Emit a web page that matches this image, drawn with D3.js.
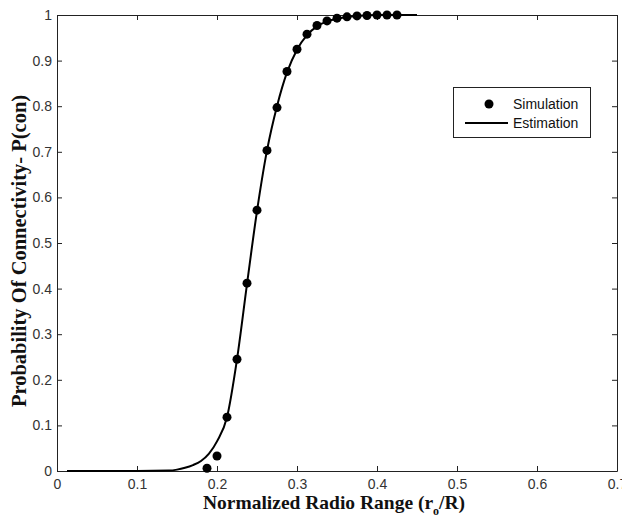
<!DOCTYPE html>
<html>
<head>
<meta charset="utf-8">
<script src="https://cdn.jsdelivr.net/npm/d3@7"></script>
<style>
  body { margin: 0; background: #fff; }
  svg { display: block; }
</style>
</head>
<body>
<script>
"use strict";
(function(){
    // simulation points
    const simX = [0.1875, 0.2, 0.2125, 0.225, 0.2375, 0.25, 0.2625, 0.275, 0.2875, 0.3,
                  0.3125, 0.325, 0.3375, 0.35, 0.3625, 0.375, 0.3875, 0.4, 0.4125, 0.425]
    const simY = [0.006, 0.033, 0.118, 0.245, 0.412, 0.572, 0.703, 0.797, 0.876, 0.925,
                  0.958, 0.977, 0.987, 0.993, 0.996, 0.998, 0.999, 1.0, 1.0, 1.0]
    // estimation curve
    const estX = [0.0125, 0.05, 0.1, 0.14, 0.15, 0.16, 0.17, 0.18, 0.19, 0.2, 0.2125, 0.225,
                  0.2375, 0.25, 0.2625, 0.275, 0.2875, 0.3, 0.3125, 0.325, 0.3375, 0.35,
                  0.375, 0.4, 0.45]
    const estY = [0, 0, 0, 0.001, 0.003, 0.007, 0.013, 0.022, 0.038, 0.065, 0.118, 0.245,
                  0.41, 0.57, 0.703, 0.8, 0.874, 0.924, 0.956, 0.975, 0.986, 0.992,
                  0.998, 1.0, 1.0]
    const xTicks = [0, 0.1, 0.2, 0.3, 0.4, 0.5, 0.6, 0.7]
    const yTicks = [0, 0.1, 0.2, 0.3, 0.4, 0.5, 0.6, 0.7, 0.8, 0.9, 1]
    const legendNames = ["Simulation", "Estimation"]

    const measurements = {
        width: 622,
        height: 521,
        left: 57,
        right: 617,
        top: 15,
        bottom: 471
    }

    const svg = d3.select("body").append("svg")
        .attr("width", measurements.width)
        .attr("height", measurements.height)

    const scaleX = d3.scaleLinear()
        .domain([0, 0.7])
        .range([measurements.left, measurements.right])
    const scaleY = d3.scaleLinear()
        .domain([0, 1])
        .range([measurements.bottom, measurements.top])

    const fmt = d3.format("")

    // axes: ticks point inward on all four sides
    const axes = [
        { axis: d3.axisBottom(scaleX).tickValues(xTicks).tickFormat(fmt).tickPadding(8),
          pos: `translate(0,${measurements.bottom})` },
        { axis: d3.axisTop(scaleX).tickValues(xTicks).tickFormat(""),
          pos: `translate(0,${measurements.top})` },
        { axis: d3.axisLeft(scaleY).tickValues(yTicks).tickFormat(fmt).tickPadding(5),
          pos: `translate(${measurements.left},0)` },
        { axis: d3.axisRight(scaleY).tickValues(yTicks).tickFormat(""),
          pos: `translate(${measurements.right},0)` }
    ]
    axes.forEach((a) => {
        const g = svg.append("g")
            .attr("transform", a.pos)
            .call(a.axis.tickSizeInner(-5).tickSizeOuter(0))
        g.select(".domain").attr("stroke", "#222")
        g.selectAll(".tick line").attr("stroke", "#222")
        g.selectAll("text")
            .attr("font-family", "Liberation Sans, Arial, sans-serif")
            .attr("font-size", 14)
            .attr("fill", "#333")
    })

    // estimation line
    const estData = estX.map((x, i) => [x, estY[i]])
    const line = d3.line()
        .x((d) => scaleX(d[0]))
        .y((d) => scaleY(d[1]))
        .curve(d3.curveMonotoneX)
    svg.append("path")
        .datum(estData)
        .attr("d", line)
        .attr("fill", "none")
        .attr("stroke", "#000")
        .attr("stroke-width", 2)

    // simulation markers
    svg.selectAll(".sim")
        .data(simX.map((x, i) => [x, simY[i]]))
        .enter()
        .append("circle")
            .attr("class", "sim")
            .attr("cx", (d) => scaleX(d[0]))
            .attr("cy", (d) => scaleY(d[1]))
            .attr("r", 4.5)
            .attr("fill", "#000")

    // legend
    const legend = svg.append("g")
    legend.append("rect")
        .attr("x", 453.5).attr("y", 87.5)
        .attr("width", 137).attr("height", 50)
        .attr("fill", "#fff").attr("stroke", "#222")
    legend.append("circle")
        .attr("cx", 489).attr("cy", 104).attr("r", 4.5).attr("fill", "#000")
    legend.append("line")
        .attr("x1", 465).attr("x2", 508).attr("y1", 123).attr("y2", 123)
        .attr("stroke", "#000").attr("stroke-width", 2)
    legend.selectAll(".legtext")
        .data(legendNames)
        .enter()
        .append("text")
            .attr("x", 513)
            .attr("y", (d, i) => 104 + i * 19.5)
            .attr("dy", "0.35em")
            .attr("font-family", "Liberation Sans, Arial, sans-serif")
            .attr("font-size", 14)
            .attr("fill", "#111")
            .text((d) => d)

    // axis titles
    const xTitle = svg.append("text")
        .attr("x", (measurements.left + measurements.right) / 2 - 3)
        .attr("y", 509)
        .attr("text-anchor", "middle")
        .attr("font-family", "Liberation Serif, Times New Roman, serif")
        .attr("font-weight", "bold")
        .attr("font-size", 19.5)
        .attr("fill", "#111")
    xTitle.append("tspan").text("Normalized Radio Range (r")
    xTitle.append("tspan").attr("font-size", 12).attr("dy", 6).text("o")
    xTitle.append("tspan").attr("dy", -6).text("/R)")

    svg.append("text")
        .attr("transform", "translate(26,251) rotate(-90)")
        .attr("text-anchor", "middle")
        .attr("font-family", "Liberation Serif, Times New Roman, serif")
        .attr("font-weight", "bold")
        .attr("font-size", 20.5)
        .attr("fill", "#111")
        .text("Probability Of Connectivity- P(con)")
})()
</script>
</body>
</html>
